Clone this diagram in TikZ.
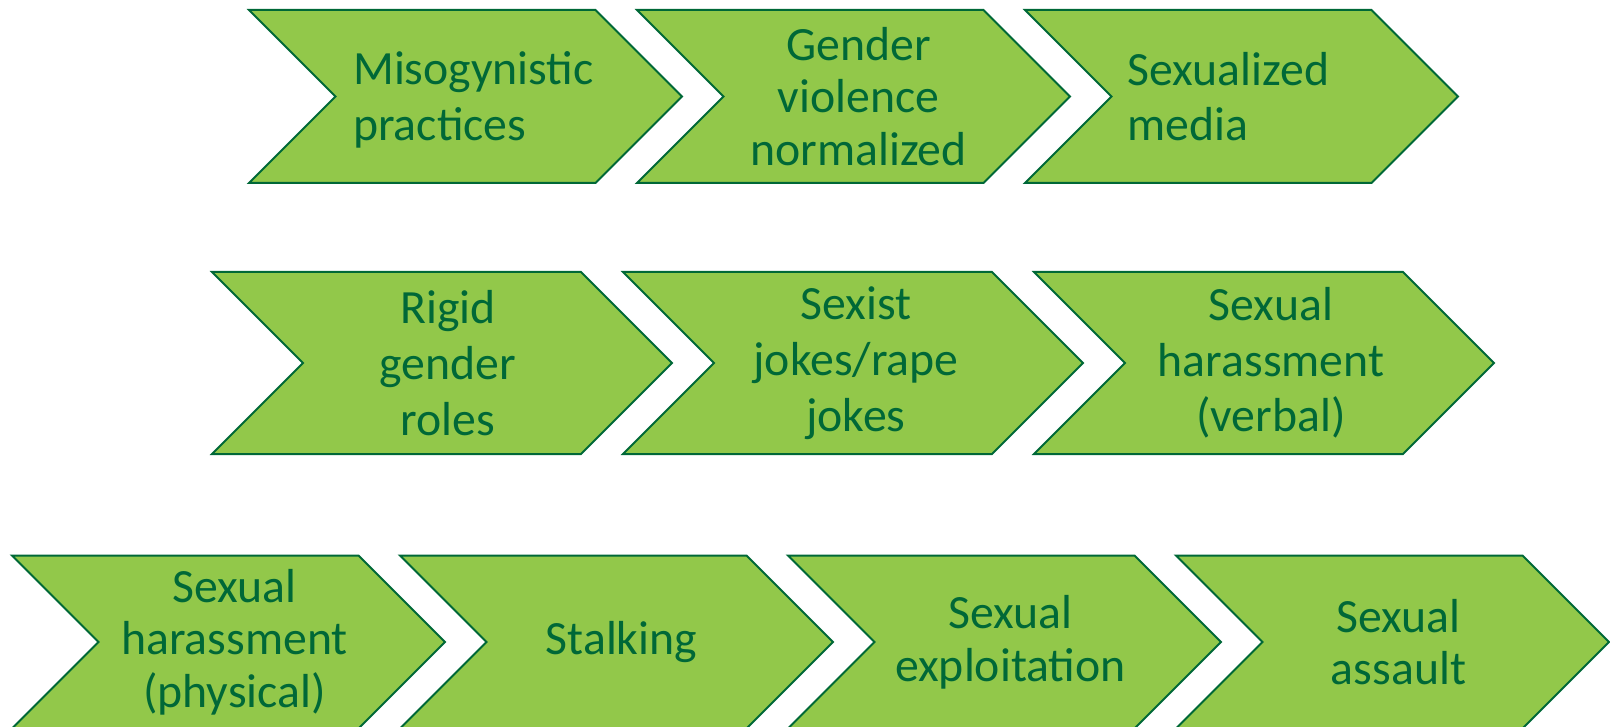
\documentclass[tikz,border=0pt]{standalone}
\usepackage{fontspec}
\setmainfont{Carlito}
\usetikzlibrary{positioning,shapes.symbols}
\definecolor{leaf}{RGB}{146,200,74}
\definecolor{forest}{RGB}{0,104,55}
\tikzset{chevron/.style = {signal, signal from=west, signal to=east, signal pointer angle=90,
    draw=forest, fill=leaf, line width=1.5pt, inner sep=0pt,
    minimum width=324.75pt, minimum height=129.75pt}}

\begin{document}
\begin{tikzpicture}[x=0.75pt,y=-0.75pt,node distance=291pt,
    label node/.style={text=forest,font=\fontsize{35.8}{41.8}\selectfont,align=center},
    tight label/.style={label node,font=\fontsize{35.8}{39.5}\selectfont}]
    \useasboundingbox (0,0) rectangle (1610,727);

    % top row
    \node[chevron] (m1) at (465.5,96.5) {};
    \node[chevron] (m2) [right of=m1] {};
    \node[chevron] (m3) [right of=m2] {};

    % middle row, slightly bigger arrows
    \node[chevron, minimum width=345pt, minimum height=136.5pt] (r1) at (442,363) {};
    \node[chevron, minimum width=345pt, minimum height=136.5pt, node distance=308.25pt] (r2) [right of=r1] {};
    \node[chevron, minimum width=345pt, minimum height=136.5pt, node distance=308.25pt] (r3) [right of=r2] {};

    % bottom row
    \node[chevron] (s1) at (228.5,642) {};
    \node[chevron] (s2) [right of=s1] {};
    \node[chevron] (s3) [right of=s2] {};
    \node[chevron] (s4) [right of=s3] {};

    % labels
    \node[label node, align=left, xshift=6pt, yshift=-2.5pt] (t-m1) at (m1) {Misogynistic\\practices};
    \node[tight label, xshift=3.75pt] (t-m2) at (m2) {Gender\\violence\\normalized};
    \node[label node, align=left, xshift=-9.75pt] (t-m3) at (m3) {Sexualized\\media};

    \node[label node, xshift=4.5pt] (t-r1) at (r1) {Rigid\\gender\\roles};
    \node[label node, xshift=2.25pt] (t-r2) at (r2) {Sexist\\jokes/rape\\jokes};
    \node[label node, xshift=5.25pt] (t-r3) at (r3) {Sexual\\harassment\\(verbal)};

    \node[tight label, xshift=4.5pt] (t-s1) at (s1) {Sexual\\harassment\\(physical)};
    \node[tight label, xshift=3.75pt] (t-s2) at (s2) {Stalking};
    \node[tight label, xshift=4.5pt] (t-s3) at (s3) {Sexual\\exploitation};
    \node[tight label, xshift=4.5pt] (t-s4) at (s4) {Sexual\\assault};
\end{tikzpicture}
\end{document}
